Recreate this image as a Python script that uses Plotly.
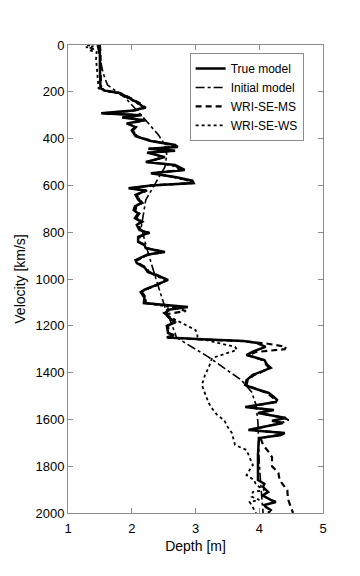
import plotly.graph_objects as go

# ---- data (x: value 1..5, y: 0..2000) ----
true_depth = [0, 30, 100, 185, 195, 205, 225, 248, 268, 280, 292, 300, 310, 322, 335, 350, 365, 390, 410, 427, 436, 443, 452, 460, 479, 500, 513, 534, 548, 565, 580, 590, 600, 612, 622, 640, 660, 675, 690, 705, 720, 740, 756, 769, 790, 803, 820, 842, 855, 868, 885, 895, 919, 932, 950, 970, 983, 1004, 1026, 1045, 1056, 1080, 1103, 1112, 1120, 1130, 1145, 1165, 1184, 1200, 1231, 1240, 1250, 1258, 1265, 1272, 1290, 1310, 1325, 1346, 1365, 1380, 1400, 1410, 1432, 1453, 1466, 1487, 1504, 1517, 1526, 1547, 1560, 1573, 1594, 1606, 1615, 1630, 1645, 1658, 1667, 1680, 1700, 1750, 1800, 1859, 1875, 1889, 1910, 1925, 1944, 1953, 1966, 1974, 1987, 2000]
true_vel = [1.48, 1.50, 1.50, 1.51, 1.58, 1.80, 1.95, 2.10, 2.20, 2.02, 1.52, 2.14, 1.85, 2.20, 1.92, 2.05, 2.00, 2.06, 2.30, 2.68, 2.72, 2.26, 2.68, 2.24, 2.52, 2.22, 2.68, 2.83, 2.30, 2.70, 2.95, 2.97, 2.30, 1.95, 2.22, 2.06, 2.10, 2.15, 2.05, 2.03, 2.10, 2.05, 2.15, 2.08, 2.12, 2.26, 2.10, 2.10, 2.20, 2.22, 2.52, 2.25, 2.06, 2.08, 2.20, 2.25, 2.38, 2.57, 2.38, 2.20, 2.14, 2.20, 2.19, 2.55, 2.88, 2.60, 2.52, 2.58, 2.69, 2.55, 2.57, 2.66, 2.55, 3.10, 3.75, 3.95, 4.10, 3.90, 3.80, 4.08, 4.12, 4.18, 4.00, 3.90, 3.80, 3.78, 3.90, 4.15, 4.23, 4.28, 4.26, 3.78, 4.23, 3.98, 4.42, 4.20, 4.37, 4.10, 3.83, 4.40, 4.34, 4.00, 3.99, 3.98, 3.98, 3.98, 4.08, 4.06, 4.14, 4.05, 4.18, 4.26, 4.08, 4.10, 4.18, 4.14]

init_depth = [0, 60, 120, 171, 226, 300, 385, 427, 470, 521, 590, 662, 778, 863, 991, 1120, 1231, 1250, 1333, 1432, 1483, 1538, 1615, 1786, 1900, 2000]
init_vel = [1.46, 1.50, 1.55, 1.62, 1.90, 2.15, 2.42, 2.52, 2.55, 2.52, 2.37, 2.22, 2.15, 2.23, 2.37, 2.52, 2.68, 2.70, 3.20, 3.72, 3.88, 3.95, 3.98, 4.00, 4.03, 4.06]

ms_depth = [0, 30, 100, 185, 195, 205, 225, 248, 268, 280, 292, 300, 310, 322, 335, 350, 365, 390, 410, 427, 436, 443, 452, 460, 479, 500, 513, 534, 548, 565, 580, 590, 600, 612, 622, 640, 660, 675, 690, 705, 720, 740, 756, 769, 790, 803, 820, 842, 855, 868, 885, 895, 919, 932, 950, 970, 983, 1004, 1026, 1045, 1056, 1080, 1103, 1112, 1125, 1137, 1150, 1165, 1184, 1200, 1231, 1240, 1250, 1258, 1265, 1275, 1290, 1300, 1312, 1325, 1346, 1365, 1380, 1400, 1410, 1432, 1453, 1466, 1487, 1504, 1517, 1526, 1547, 1560, 1573, 1594, 1603, 1615, 1630, 1645, 1658, 1667, 1680, 1709, 1740, 1761, 1800, 1829, 1860, 1902, 1940, 1987, 2000]
ms_vel = [1.50, 1.51, 1.51, 1.52, 1.60, 1.82, 1.97, 2.12, 2.22, 2.05, 1.55, 2.16, 1.88, 2.22, 1.95, 2.07, 2.02, 2.08, 2.32, 2.66, 2.70, 2.28, 2.66, 2.26, 2.50, 2.24, 2.66, 2.80, 2.32, 2.68, 2.92, 2.95, 2.32, 1.98, 2.24, 2.08, 2.12, 2.17, 2.07, 2.05, 2.12, 2.07, 2.17, 2.10, 2.14, 2.28, 2.12, 2.12, 2.22, 2.24, 2.50, 2.27, 2.08, 2.10, 2.22, 2.27, 2.40, 2.55, 2.40, 2.22, 2.16, 2.22, 2.21, 2.55, 2.70, 2.85, 2.55, 2.58, 2.67, 2.57, 2.58, 2.66, 2.57, 3.05, 3.70, 4.10, 4.42, 4.40, 3.95, 3.82, 4.05, 4.10, 4.15, 4.02, 3.92, 3.82, 3.80, 3.92, 4.12, 4.20, 4.25, 4.24, 3.82, 4.20, 4.00, 4.40, 4.46, 4.35, 4.12, 3.86, 4.36, 4.30, 4.02, 4.06, 4.15, 4.20, 4.20, 4.30, 4.32, 4.44, 4.45, 4.52, 4.53]

ws_depth = [0, 5, 10, 15, 22, 30, 60, 100, 150, 185, 195, 205, 225, 248, 268, 280, 292, 300, 310, 322, 335, 350, 365, 390, 410, 427, 436, 443, 452, 460, 479, 500, 513, 534, 548, 565, 580, 590, 600, 612, 622, 640, 660, 675, 690, 705, 720, 740, 756, 769, 790, 803, 820, 842, 855, 868, 885, 895, 919, 932, 950, 970, 983, 1004, 1026, 1045, 1056, 1080, 1103, 1120, 1145, 1165, 1197, 1218, 1235, 1252, 1270, 1290, 1303, 1320, 1338, 1376, 1410, 1453, 1490, 1526, 1550, 1581, 1603, 1630, 1658, 1690, 1709, 1731, 1760, 1795, 1815, 1838, 1859, 1880, 1902, 1910, 1930, 1944, 1953, 1979, 2000]
ws_vel = [1.30, 1.40, 1.28, 1.42, 1.33, 1.45, 1.44, 1.45, 1.46, 1.48, 1.56, 1.76, 1.93, 2.08, 2.18, 2.00, 1.58, 2.10, 1.90, 2.18, 1.95, 2.04, 2.02, 2.08, 2.28, 2.60, 2.65, 2.30, 2.62, 2.28, 2.48, 2.25, 2.62, 2.78, 2.34, 2.66, 2.88, 2.92, 2.35, 2.00, 2.20, 2.08, 2.12, 2.14, 2.08, 2.06, 2.12, 2.08, 2.14, 2.10, 2.14, 2.24, 2.12, 2.12, 2.20, 2.22, 2.46, 2.26, 2.10, 2.10, 2.20, 2.26, 2.36, 2.52, 2.38, 2.22, 2.16, 2.22, 2.22, 2.60, 2.50, 2.62, 2.85, 3.00, 3.03, 3.03, 3.30, 3.62, 3.65, 3.45, 3.26, 3.21, 3.15, 3.10, 3.15, 3.20, 3.25, 3.34, 3.45, 3.50, 3.57, 3.60, 3.62, 3.80, 3.85, 3.90, 3.85, 3.80, 3.92, 3.95, 4.08, 3.90, 3.88, 4.00, 3.85, 3.90, 3.95]

y_ticks = [0, 200, 400, 600, 800, 1000, 1200, 1400, 1600, 1800, 2000]
x_ticks = [1, 2, 3, 4, 5]

FONT = "Liberation Sans, Arial, sans-serif"

fig = go.Figure()
fig.add_trace(go.Scatter(x=true_vel, y=true_depth, mode="lines", name="True model",
                         line=dict(color="black", width=2.5, dash="solid")))
fig.add_trace(go.Scatter(x=init_vel, y=init_depth, mode="lines", name="Initial model",
                         line=dict(color="black", width=1.6, dash="dashdot")))
fig.add_trace(go.Scatter(x=ms_vel, y=ms_depth, mode="lines", name="WRI-SE-MS",
                         line=dict(color="black", width=2.2, dash="6px,4px")))
fig.add_trace(go.Scatter(x=ws_vel, y=ws_depth, mode="lines", name="WRI-SE-WS",
                         line=dict(color="black", width=1.8, dash="dot")))

axis_common = dict(
    showline=True, linecolor="#8c8c8c", linewidth=1, mirror="ticks",
    ticks="inside", ticklen=5, tickcolor="#8c8c8c", tickwidth=1,
    showgrid=False, zeroline=False,
    tickfont=dict(family=FONT, size=13, color="black"),
)

fig.update_layout(
    width=360, height=576,
    margin=dict(l=55, r=45, t=37, b=71),
    paper_bgcolor="white", plot_bgcolor="white",
    font=dict(family=FONT, size=13, color="black"),
    xaxis=dict(range=[1, 5], tickvals=x_ticks, ticklabelstandoff=3,
               title=dict(text="Depth [m]", font=dict(family=FONT, size=14), standoff=6),
               **axis_common),
    yaxis=dict(range=[2000, 0], tickvals=y_ticks,
               title=dict(text="Velocity [km/s]", font=dict(family=FONT, size=14), standoff=6),
               **axis_common),
    legend=dict(x=0.477, y=0.983, xanchor="left", yanchor="top",
                bgcolor="white", bordercolor="#8c8c8c", borderwidth=1,
                font=dict(family=FONT, size=12, color="black"),
                tracegroupgap=0, itemwidth=30,
                entrywidth=92, entrywidthmode="pixels"),
    showlegend=True,
)

fig.write_html("out.html")
